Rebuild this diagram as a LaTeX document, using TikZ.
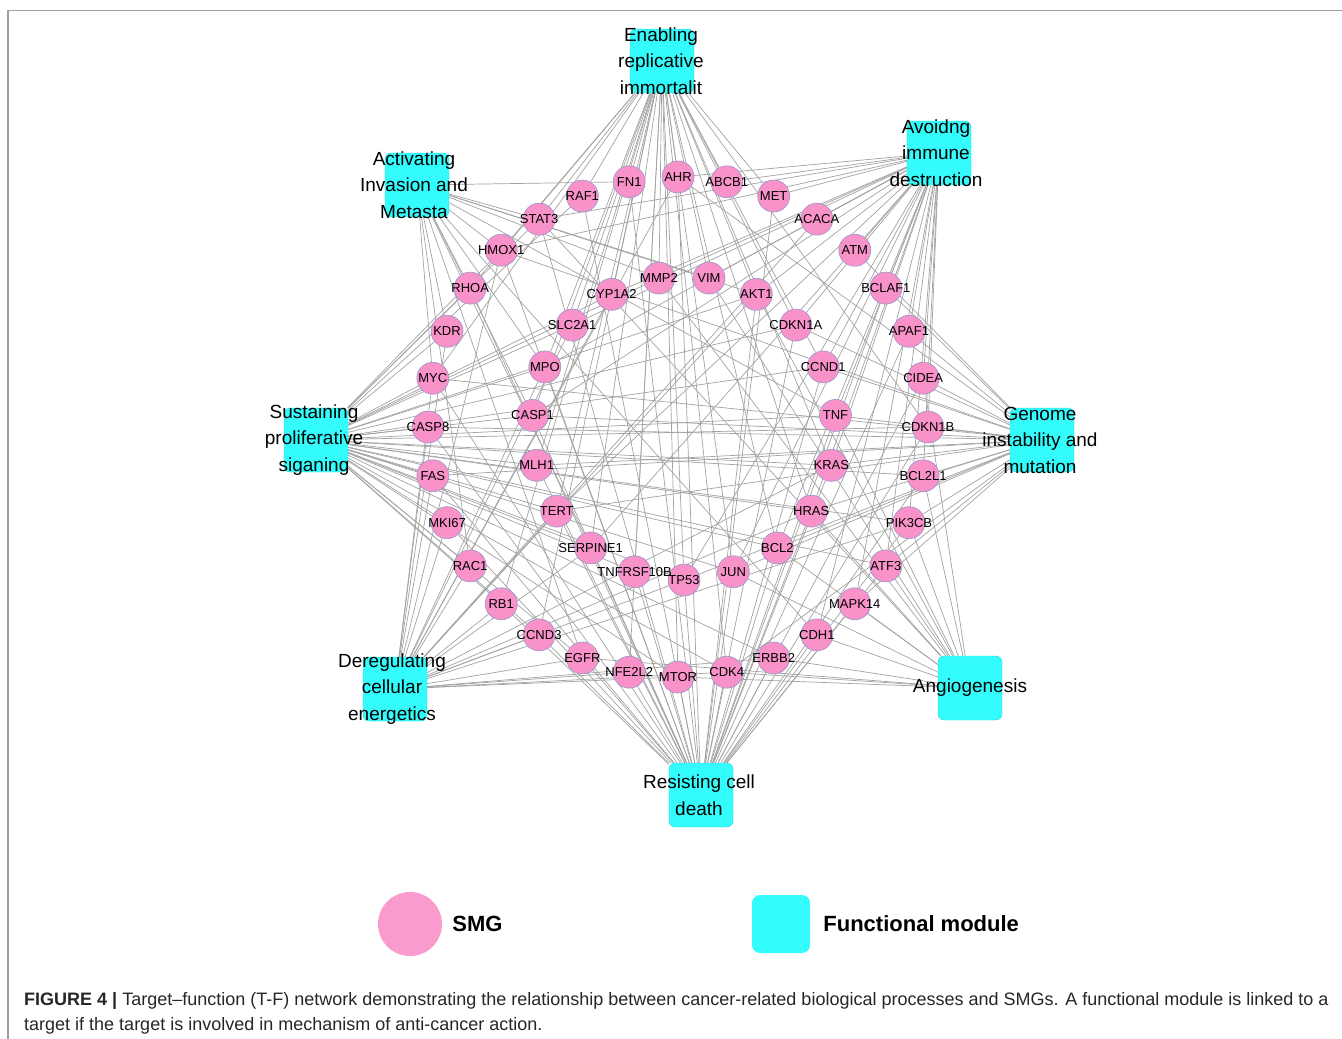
\documentclass[tikz,border=0pt]{standalone}
\usepackage{fontspec}
\setmainfont{Liberation Sans}
\usetikzlibrary{positioning,backgrounds}

\definecolor{smgpink}{RGB}{249,146,200}
\definecolor{smgline}{RGB}{150,150,200}
\definecolor{modcyan}{RGB}{52,252,252}
\definecolor{linkgray}{RGB}{162,162,162}

\begin{document}
\begin{tikzpicture}[x=1pt,y=-1pt,
  smg/.style={circle,fill=smgpink,draw=smgline,line width=0.6pt,minimum size=32pt,inner sep=0pt},
  genetext/.style={font=\fontsize{13}{13}\selectfont,inner sep=0pt},
  module/.style={rectangle,rounded corners=6pt,fill=modcyan,draw=modcyan!85!black,line width=0.4pt,minimum size=64pt,inner sep=0pt},
  modtext/.style={font=\fontsize{19}{26.5}\selectfont,align=center,inner sep=0pt},
  legtext/.style={font=\bfseries\fontsize{22}{22}\selectfont,inner sep=0pt},
  link/.style={draw=linkgray,line width=0.7pt}]
  \useasboundingbox (0,0) rectangle (1342,1039);
  \draw[gray!75,line width=1.5pt] (8,1039) -- (8,10.5) -- (1342,10.5);

  % outer ring of SMGs
  \begin{scope}[shift={(678,427)}]
    \foreach \g [count=\i from 0] in {AHR,ABCB1,MET,ACACA,ATM,BCLAF1,APAF1,CIDEA,
        CDKN1B,BCL2L1,PIK3CB,ATF3,MAPK14,CDH1,ERBB2,CDK4,MTOR,NFE2L2,EGFR,CCND3,
        RB1,RAC1,MKI67,FAS,CASP8,MYC,KDR,RHOA,HMOX1,STAT3,RAF1,FN1}
      \node[smg,label={[genetext]center:\g}] (\g) at ({-90+\i*11.25}:250) {};
  \end{scope}
  % inner ring of SMGs
  \begin{scope}[shift={(684,428)}]
    \foreach \g [count=\i from 0] in {TP53,JUN,BCL2,HRAS,KRAS,TNF,CCND1,CDKN1A,AKT1,
        VIM,MMP2,CYP1A2,SLC2A1,MPO,CASP1,MLH1,TERT,SERPINE1,TNFRSF10B}
      \node[smg,label={[genetext]center:\g}] (\g) at ({90-\i*360/19}:152) {};
  \end{scope}

  % functional modules
  \node[module] (eri) at (662,61) {};
  \node[modtext] at (661,61) {Enabling\\replicative\\immortalit};
  \node[module] (aid) at (939,153) {};
  \node[modtext] at (936,153) {Avoidng\\immune\\destruction};
  \node[module] (aim) at (417,185) {};
  \node[modtext] at (414,185) {Activating\\Invasion and\\Metasta};
  \node[module] (sps) at (316,440) {};
  \node[modtext] at (314,440) {Sustaining\\proliferative\\siganing};
  \node[module] (gim) at (1042,440) {};
  \node[modtext] at (1040,440) {Genome\\instability and\\mutation};
  \node[module] (dce) at (395,689) {};
  \node[modtext] at (392,689) {Deregulating\\cellular\\energetics};
  \node[module] (rcd) at (701,795) {};
  \node[modtext] at (699,795) {Resisting cell\\death};
  \node[module] (ang) at (970,688) {};
  \node[modtext] at (970,688) {Angiogenesis};

  % target--function links
  \begin{scope}[on background layer]
    \foreach \g in {STAT3,HMOX1,RHOA,MYC,RAF1,FN1,AHR,ABCB1,MET,CYP1A2,MMP2,VIM,AKT1,
        SLC2A1,MPO,CASP1,MLH1,TERT,SERPINE1,TNFRSF10B,TP53,JUN,BCL2,HRAS,KRAS,CDKN1A,
        CCND1,MTOR,CDK4,NFE2L2,CCND3,CDKN1B,RB1}
      \draw[link] (eri) -- (\g);
    \foreach \g in {MET,ACACA,ATM,BCLAF1,APAF1,CIDEA,CDKN1B,BCL2L1,PIK3CB,AKT1,CDKN1A,
        CCND1,TNF,KRAS,HRAS,BCL2,JUN,TP53,VIM,MMP2,CYP1A2,SLC2A1,MPO,CASP1,TERT,
        SERPINE1,STAT3,HMOX1,ABCB1,AHR,ATF3,MAPK14,CDH1}
      \draw[link] (aid) -- (\g);
    \foreach \g in {FN1,HMOX1,RHOA,KDR,MYC,STAT3,MMP2,VIM,CDH1,SERPINE1,TNF,AKT1,RAC1,
        EGFR,CASP1,MPO}
      \draw[link] (aim) -- (\g);
    \foreach \g in {KDR,MYC,CASP8,FAS,MKI67,RAC1,RB1,CCND3,EGFR,RHOA,HMOX1,STAT3,RAF1,
        MPO,CASP1,MLH1,TERT,SERPINE1,TNFRSF10B,TP53,JUN,BCL2,HRAS,KRAS,TNF,CCND1,
        CDKN1A,AKT1,SLC2A1,CYP1A2,MMP2,CDKN1B,BCL2L1,PIK3CB,ERBB2,MTOR,CDK4,ATF3}
      \draw[link] (sps) -- (\g);
    \foreach \g in {APAF1,CIDEA,CDKN1B,BCL2L1,PIK3CB,ATF3,BCLAF1,ATM,TNF,KRAS,HRAS,
        CCND1,CDKN1A,BCL2,JUN,TP53,MLH1,TERT,CASP1,MAPK14,AHR,HMOX1,FAS,CASP8,MYC,CDK4}
      \draw[link] (gim) -- (\g);
    \foreach \g in {RAC1,RB1,CCND3,EGFR,NFE2L2,MTOR,MKI67,FAS,SLC2A1,ACACA,CYP1A2,AKT1,
        MYC,KRAS,HRAS,TP53,HMOX1,CDK4,ERBB2,PIK3CB,AHR,TERT,SERPINE1,MPO,KDR,CASP8}
      \draw[link] (dce) -- (\g);
    \foreach \g in {NFE2L2,MTOR,CDK4,ERBB2,CDH1,EGFR,CCND3,TP53,JUN,BCL2,TNFRSF10B,
        SERPINE1,HRAS,KRAS,TNF,CASP1,CASP8,FAS,APAF1,BCL2L1,BCLAF1,CIDEA,ATF3,MAPK14,
        AKT1,CDKN1A,CCND1,MLH1,TERT,MPO,STAT3,HMOX1,RAF1,FN1,AHR,MET,RHOA,MYC,RB1,
        MKI67,CDKN1B,PIK3CB}
      \draw[link] (rcd) -- (\g);
    \foreach \g in {MAPK14,ATF3,CDH1,ERBB2,CDK4,MTOR,PIK3CB,BCL2L1,HRAS,BCL2,JUN,TNF,
        MMP2,VIM,AKT1,EGFR,STAT3,CIDEA}
      \draw[link] (ang) -- (\g);
  \end{scope}

  % legend
  \node[circle,fill=smgpink!92,minimum size=64pt,inner sep=0pt] (legsmg) at (410,924) {};
  \node[legtext,right=10pt of legsmg] (legsmgtext) {SMG};
  \node[module,draw=none,rounded corners=8pt,minimum size=58pt] (legmod) at (781,924) {};
  \node[legtext,right=13pt of legmod] (legmodtext) {Functional module};

  % caption
  \node[anchor=base west,inner sep=0pt,text=black!85,font=\fontsize{18}{18}\selectfont]
    (capone) at (24,1005) {\textbf{FIGURE 4 |} Target–function (T-F) network demonstrating the relationship between cancer-related biological processes and SMGs. A functional module is linked to a};
  \node[anchor=base west,inner sep=0pt,text=black!85,font=\fontsize{18}{18}\selectfont]
    (captwo) at (24,1030) {target if the target is involved in mechanism of anti-cancer action.};
\end{tikzpicture}
\end{document}
